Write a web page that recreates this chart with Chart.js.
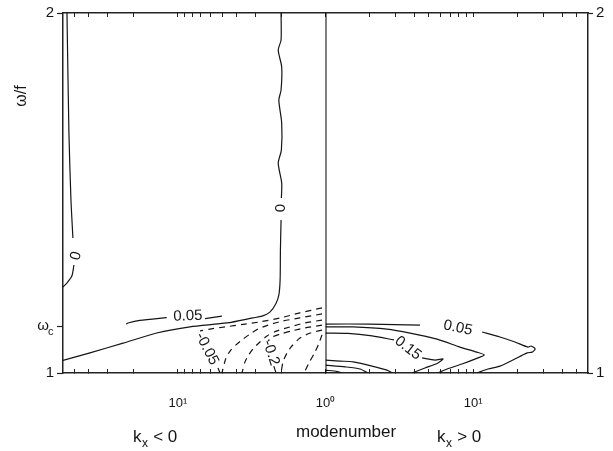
<!DOCTYPE html>
<html><head><meta charset="utf-8">
<script src="https://cdn.jsdelivr.net/npm/chart.js@4.4.0/dist/chart.umd.min.js"></script>
<style>html,body{margin:0;padding:0;background:#fff}#wrap{width:613px;height:451px}</style>
</head><body><div id="wrap"><canvas id="c" width="613" height="451"></canvas></div>
<script>
// ---------- data (modenumber k, frequency omega/f) ----------
const kMax = 60;
const omegaC = 1.13;
const xTickValues = [1,2,3,4,5,6,7,8,9,10,20,30,40,50];
const yTicksLeft = [1, omegaC, 2];
const yTickLabelsLeft = ['1', '', '2'];
const yTicksRight = [1, 2];
const yTickLabelsRight = ['1', '2'];

// k_x < 0 panel
const zeroEdgeA_k = [56.4,54.7,53.0,51.4];
const zeroEdgeA_w = [2.0,1.667,1.481,1.375];
const zeroEdgeB_k = [50.6,52.2,56.4,60];
const zeroEdgeB_w = [1.300,1.270,1.250,1.239];
const zeroMainA_k = [2.00,2.00,2.09,1.98,2.00,2.07,1.98,1.99,2.09,1.98,1.99];
const zeroMainA_w = [2.0,1.925,1.897,1.85,1.786,1.758,1.694,1.619,1.583,1.528,1.486];
const zeroMainB_k = [2.00,2.02,2.03,2.07,2.16,2.38,2.69,3.10,4.65,8.28,13.9,23.5,39.4,60];
const zeroMainB_w = [1.425,1.342,1.258,1.217,1.194,1.169,1.158,1.153,1.139,1.128,1.111,1.083,1.056,1.035];
const posL05A_k = [22.4,21.8,18.1,11.9];
const posL05A_w = [1.136,1.139,1.146,1.154];
const posL05B_k = [6.55,5.03];
const posL05B_w = [1.151,1.158];
const negL05A_k = [1.056,1.49,2.03,2.78,3.62,4.80,6.07,7.08];
const negL05A_w = [1.181,1.167,1.153,1.142,1.135,1.128,1.122,1.117];
const negL05B_k = [5.35,5.18];
const negL05B_w = [1.014,1.0];
const negL10_k = [1.056,1.49,1.97,2.45,2.87,3.25,3.62,4.04,4.43,4.72,5.03];
const negL10_w = [1.164,1.153,1.144,1.133,1.122,1.108,1.094,1.078,1.061,1.042,1.0];
const negL15_k = [1.056,1.38,1.74,2.13,2.49,2.78,3.10,3.35,3.51,3.68];
const negL15_w = [1.147,1.139,1.128,1.117,1.103,1.086,1.067,1.047,1.031,1.0];
const negL20A_k = [1.056,1.38,1.69,2.03,2.29,2.45];
const negL20A_w = [1.133,1.125,1.117,1.108,1.100,1.089];
const negL20B_k = [2.24,2.16];
const negL20B_w = [1.019,1.0];
const negL25_k = [1.056,1.27,1.49,1.69,1.82,1.94,2.00];
const negL25_w = [1.119,1.111,1.097,1.075,1.056,1.031,1.0];
const negL30_k = [1.056,1.107,1.178,1.294,1.399];
const negL30_w = [1.106,1.083,1.058,1.028,1.0];

// k_x > 0 panel
const divider_k = [1,1];
const divider_w = [1,2];
const posR05A_k = [1,2.00,4.37];
const posR05A_w = [1.136,1.136,1.133];
const posR05B_k = [11.5,15.2,19.2,23.5,24.7,26.3,25.1,23.2,18.6,15.2,12.6,10.6];
const posR05B_w = [1.114,1.100,1.086,1.072,1.075,1.067,1.058,1.056,1.036,1.019,1.011,1.0];
const posR10_k = [1,1.54,2.61,3.74,5.69,8.15,10.6,11.9,10.8,8.41,6.66,5.78];
const posR10_w = [1.128,1.128,1.122,1.111,1.094,1.072,1.058,1.050,1.042,1.025,1.011,1.0];
const posR15A_k = [1,1.42,2.07,2.91];
const posR15A_w = [1.111,1.110,1.103,1.092];
const posR15B_k = [4.51,5.52,6.25,5.78,4.72,3.85];
const posR15B_w = [1.042,1.036,1.039,1.028,1.014,1.0];
const posR20_k = [1,1.25,1.54,2.61,2.82];
const posR20_w = [1.036,1.033,1.031,1.008,1.0];
const posR25_k = [1,1.36,1.71,1.94];
const posR25_w = [1.022,1.017,1.011,1.0];
const posR30_k = [1,1.20,1.29];
const posR30_w = [1.008,1.004,1.0];

// contour labels
const labelText  = ['0','0','0.05','-0.05','-0.2','0.05','0.15'];
const labelK     = [49.0,2.0,8.55,6.35,2.34,7.90,3.62];
const labelW     = [1.325,1.458,1.158,1.067,1.056,1.125,1.069];
const labelPanel = ['L','L','L','L','L','R','R'];
const labelRot   = [-75,-90,-2,63,72,12,38];

// ---------- chart ----------
const FONT = '"Liberation Sans", Arial, Helvetica, sans-serif';
const INK = '#151515';
function pts(ks, ws){ return ks.map((k,i)=>({x:k, y:ws[i]})); }
function line(ks, ws, axis, dashed){
  return { data: pts(ks, ws), xAxisID: axis, yAxisID: 'y', showLine: true,
    borderColor: INK, borderWidth: 1.2, pointRadius: 0, tension: 0.25,
    borderDash: dashed ? [6,5] : [], fill: false };
}
const datasets = [
  line(zeroEdgeA_k, zeroEdgeA_w, 'xL'), line(zeroEdgeB_k, zeroEdgeB_w, 'xL'),
  line(zeroMainA_k, zeroMainA_w, 'xL'), line(zeroMainB_k, zeroMainB_w, 'xL'),
  line(posL05A_k, posL05A_w, 'xL'), line(posL05B_k, posL05B_w, 'xL'),
  line(negL05A_k, negL05A_w, 'xL', true), line(negL05B_k, negL05B_w, 'xL', true),
  line(negL10_k, negL10_w, 'xL', true), line(negL15_k, negL15_w, 'xL', true),
  line(negL20A_k, negL20A_w, 'xL', true), line(negL20B_k, negL20B_w, 'xL', true),
  line(negL25_k, negL25_w, 'xL', true), line(negL30_k, negL30_w, 'xL', true),
  line(divider_k, divider_w, 'xR'),
  line(posR05A_k, posR05A_w, 'xR'), line(posR05B_k, posR05B_w, 'xR'),
  line(posR10_k, posR10_w, 'xR'),
  line(posR15A_k, posR15A_w, 'xR'), line(posR15B_k, posR15B_w, 'xR'),
  line(posR20_k, posR20_w, 'xR'), line(posR25_k, posR25_w, 'xR'), line(posR30_k, posR30_w, 'xR')
];
datasets[14].borderWidth = 2; datasets[14].tension = 0; datasets[14].borderColor = '#000';

function xAxis(pos, reverse, weight, stack, showLabels, hideZero){
  return {
    type: 'logarithmic', position: pos, stack: stack, stackWeight: 1, weight: weight,
    reverse: reverse, min: 1, max: kMax,
    afterBuildTicks: s => { s.ticks = xTickValues.map(v => ({value: v})); },
    afterFit: s => { s.height = pos === 'bottom' ? 78 : 13; },
    ticks: { autoSkip: false, maxRotation: 0, minRotation: 0, padding: pos === 'bottom' ? 27 : 0,
      color: INK, font: { family: FONT, size: 13 },
      callback: v => !showLabels ? '' : (v === 10 ? '10\u00b9' : (v === 1 && !hideZero ? '10\u2070' : '')) },
    grid: { drawOnChartArea: false, tickLength: -4, tickColor: '#222', tickWidth: 1 },
    border: { display: true, color: '#222', width: 1.5 }
  };
}

const textPlugin = {
  id: 'texts',
  afterDraw(chart){
    const ctx = chart.ctx;
    const sL = chart.scales.xL, sR = chart.scales.xR, sy = chart.scales.y;
    ctx.save();
    ctx.fillStyle = INK;
    // contour labels
    labelText.forEach((t, i) => {
      const sx = labelPanel[i] === 'L' ? sL : sR;
      const px = sx.getPixelForValue(labelK[i]);
      const py = sy.getPixelForValue(labelW[i]);
      ctx.save();
      ctx.translate(px, py);
      ctx.rotate(labelRot[i] * Math.PI / 180);
      ctx.font = '15px ' + FONT;
      ctx.textAlign = 'center'; ctx.textBaseline = 'middle';
      ctx.fillText(t, 0, 0);
      ctx.restore();
    });
    // omega_c tick label
    const yc = sy.getPixelForValue(omegaC);
    ctx.font = '15px ' + FONT;
    ctx.textAlign = 'right'; ctx.textBaseline = 'middle';
    ctx.fillText('\u03c9', 49, yc);
    ctx.font = '11px ' + FONT;
    ctx.textAlign = 'left';
    ctx.fillText('c', 48, yc + 6);
    // y title
    ctx.save();
    ctx.translate(22, 96); ctx.rotate(-Math.PI / 2);
    ctx.font = '16px ' + FONT; ctx.textAlign = 'center'; ctx.textBaseline = 'middle';
    ctx.fillText('\u03c9/f', 0, 0);
    ctx.restore();
    // bottom titles
    ctx.textBaseline = 'alphabetic'; ctx.textAlign = 'left';
    function kx(x, y, rest){
      ctx.font = '17px ' + FONT; ctx.fillText('k', x, y);
      const w = ctx.measureText('k').width;
      ctx.font = '12px ' + FONT; ctx.fillText('x', x + w + 0.5, y + 5);
      const w2 = ctx.measureText('x').width;
      ctx.font = '17px ' + FONT; ctx.fillText(rest, x + w + w2 + 1, y);
    }
    kx(133, 442, ' < 0');
    kx(437, 442, ' > 0');
    ctx.font = '17px ' + FONT;
    ctx.fillText('modenumber', 296, 437);
    ctx.restore();
  }
};

new Chart(document.getElementById('c'), {
  type: 'scatter',
  data: { datasets },
  options: {
    responsive: false, animation: false, devicePixelRatio: 1,
    layout: { padding: 0 },
    plugins: { legend: { display: false }, tooltip: { enabled: false } },
    scales: {
      xL: xAxis('bottom', true, 0, 'bx', true, true),
      xR: xAxis('bottom', false, 1, 'bx', true, false),
      xLt: xAxis('top', true, 1, 'tx', false, true),
      xRt: xAxis('top', false, 0, 'tx', false, true),
      y: { type: 'linear', position: 'left', min: 1, max: 2,
        afterBuildTicks: s => { s.ticks = yTicksLeft.map(v => ({value: v})); },
        afterFit: s => { s.width = 63; },
        ticks: { autoSkip: false, padding: 3, color: INK, font: { family: FONT, size: 15 },
          callback: (v, i) => yTickLabelsLeft[i] },
        grid: { drawOnChartArea: false, tickLength: 6, tickColor: '#222', tickWidth: 1.2 },
        border: { display: true, color: '#222', width: 1.5 } },
      y2: { type: 'linear', position: 'right', min: 1, max: 2,
        afterBuildTicks: s => { s.ticks = yTicksRight.map(v => ({value: v})); },
        afterFit: s => { s.width = 25; },
        ticks: { autoSkip: false, padding: 3, color: INK, font: { family: FONT, size: 15 },
          callback: (v, i) => yTickLabelsRight[i] },
        grid: { drawOnChartArea: false, tickLength: 5, tickColor: '#222', tickWidth: 1.2 },
        border: { display: true, color: '#222', width: 1.5 } }
    }
  },
  plugins: [textPlugin]
});
</script>
</body></html>
